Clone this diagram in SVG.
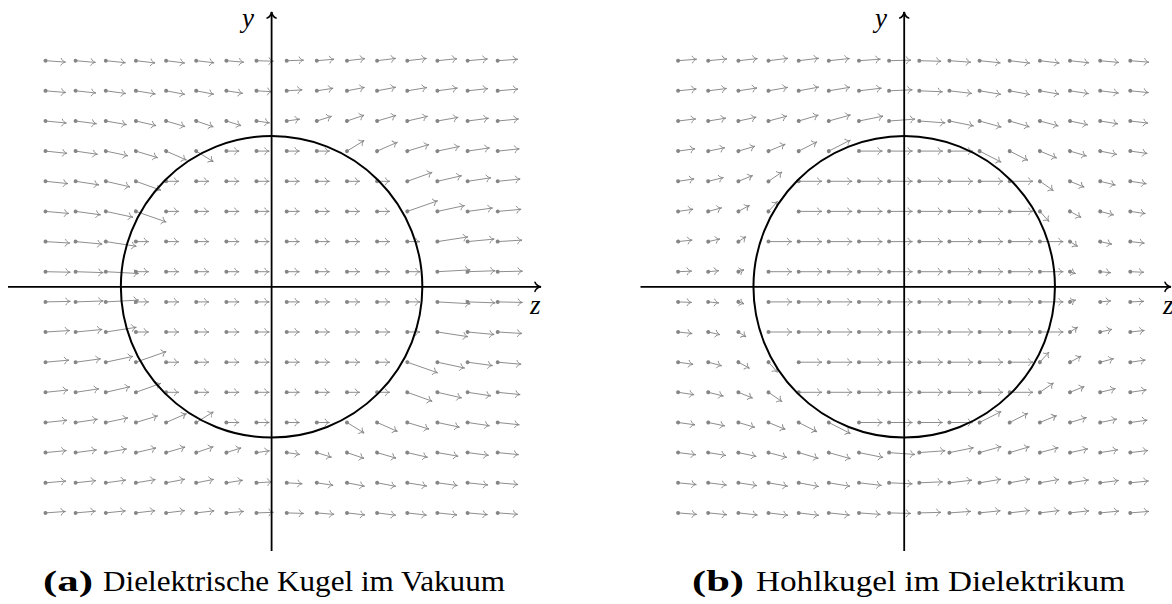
<svg xmlns="http://www.w3.org/2000/svg" xmlns:xlink="http://www.w3.org/1999/xlink" width="1172" height="604" viewBox="0 0 1172 604">
<defs>
<marker id="d" markerUnits="userSpaceOnUse" markerWidth="6" markerHeight="6" viewBox="-3 -3 6 6" refX="0" refY="0" orient="auto"><circle r="2" fill="#858585"/></marker>
<marker id="h" markerUnits="userSpaceOnUse" markerWidth="10" markerHeight="10" viewBox="-7 -5 10 10" refX="0" refY="0" orient="auto"><path d="M-4.4,-3.4 C-3.7,-1.4 -1.4,-0.3 0,0 C-1.4,0.3 -3.7,1.4 -4.4,3.4" fill="none" stroke="#888" stroke-width="0.9" stroke-linecap="round"/></marker>
<marker id="ha" markerUnits="userSpaceOnUse" markerWidth="14" markerHeight="14" viewBox="-9 -7 14 14" refX="0" refY="0" orient="auto"><path d="M-6,-4.5 C-5,-1.8 -1.8,-0.35 0,0 C-1.8,0.35 -5,1.8 -6,4.5" fill="none" stroke="#000" stroke-width="1.6" stroke-linecap="round"/></marker>
<style>
.ax{stroke:#000;stroke-width:1.8;fill:none;marker-end:url(#ha)}
.ring{stroke:#000;stroke-width:2;fill:none}
.lbl{font-family:"Liberation Serif",serif;font-style:italic;font-size:27px;fill:#000}
.cap{font-family:"Liberation Serif",serif;font-size:29px;fill:#000}
</style>
</defs>
<rect width="1172" height="604" fill="#fff"/>

<g id="field-a-top" fill="none" stroke="#888" stroke-width="0.95" marker-start="url(#d)" marker-end="url(#h)">
<path d="M45.5 60.7l19.97 1.42"/><path d="M75.6 60.7l19.83 1.72"/><path d="M105.8 60.7l19.57 2.01"/><path d="M135.9 60.7l19.15 2.24"/><path d="M166.1 60.7l18.57 2.29"/><path d="M196.2 60.7l17.9 2.06"/><path d="M226.4 60.7l17.26 1.46"/><path d="M256.5 60.7l16.87 .53"/><path d="M286.7 60.7l16.87-.53"/><path d="M316.8 60.7l17.26-1.46"/><path d="M347 60.7l17.9-2.06"/><path d="M377.1 60.7l18.57-2.29"/><path d="M407.3 60.7l19.15-2.24"/><path d="M437.4 60.7l19.57-2.01"/><path d="M467.6 60.7l19.83-1.72"/><path d="M497.7 60.7l19.97-1.42"/>
<path d="M45.5 90.8l20.33 1.72"/><path d="M75.6 90.8l20.23 2.18"/><path d="M105.8 90.8l19.96 2.71"/><path d="M135.9 90.8l19.44 3.21"/><path d="M166.1 90.8l18.59 3.52"/><path d="M196.2 90.8l17.45 3.37"/><path d="M226.4 90.8l16.27 2.5"/><path d="M256.5 90.8l15.49 .94"/><path d="M286.7 90.8l15.49-.94"/><path d="M316.8 90.8l16.27-2.5"/><path d="M347 90.8l17.45-3.37"/><path d="M377.1 90.8l18.59-3.52"/><path d="M407.3 90.8l19.44-3.21"/><path d="M437.4 90.8l19.96-2.71"/><path d="M467.6 90.8l20.23-2.18"/><path d="M497.7 90.8l20.33-1.72"/>
<path d="M45.5 121l20.84 2.01"/><path d="M75.6 121l20.87 2.71"/><path d="M105.8 121l20.7 3.61"/><path d="M135.9 121l20.14 4.63"/><path d="M166.1 121l18.95 5.55"/><path d="M196.2 121l17.01 5.8"/><path d="M226.4 121l14.66 4.65"/><path d="M256.5 121l12.95 1.82"/><path d="M286.7 121l12.95-1.82"/><path d="M316.8 121l14.66-4.65"/><path d="M347 121l17.01-5.8"/><path d="M377.1 121l18.95-5.55"/><path d="M407.3 121l20.14-4.63"/><path d="M437.4 121l20.7-3.61"/><path d="M467.6 121l20.87-2.71"/><path d="M497.7 121l20.84-2.01"/>
<path d="M45.5 151.1l21.54 2.24"/><path d="M75.6 151.1l21.85 3.21"/><path d="M105.8 151.1l22.01 4.63"/><path d="M135.9 151.1l21.69 6.58"/><path d="M166.1 151.1l20.3 8.88"/><path d="M196.2 151.1l17.08 10.56"/><path d="M226.4 151.1l12.7 0"/><path d="M256.5 151.1l12.7 0"/><path d="M286.7 151.1l12.7 0"/><path d="M316.8 151.1l12.7 0"/><path d="M347 151.1l17.08-10.56"/><path d="M377.1 151.1l20.3-8.88"/><path d="M407.3 151.1l21.69-6.58"/><path d="M437.4 151.1l22.01-4.63"/><path d="M467.6 151.1l21.85-3.21"/><path d="M497.7 151.1l21.54-2.24"/>
<path d="M45.5 181.3l22.42 2.29"/><path d="M75.6 181.3l23.23 3.52"/><path d="M105.8 181.3l24.13 5.55"/><path d="M135.9 181.3l24.81 8.88"/><path d="M166.1 181.3l12.7 0"/><path d="M196.2 181.3l12.7 0"/><path d="M226.4 181.3l12.7 0"/><path d="M256.5 181.3l12.7 0"/><path d="M286.7 181.3l12.7 0"/><path d="M316.8 181.3l12.7 0"/><path d="M347 181.3l12.7 0"/><path d="M377.1 181.3l12.7 0"/><path d="M407.3 181.3l24.81-8.88"/><path d="M437.4 181.3l24.13-5.55"/><path d="M467.6 181.3l23.23-3.52"/><path d="M497.7 181.3l22.42-2.29"/>
<path d="M45.5 211.4l23.39 2.06"/><path d="M75.6 211.4l24.9 3.37"/><path d="M105.8 211.4l27.12 5.8"/><path d="M135.9 211.4l30.22 10.56"/><path d="M166.1 211.4l12.7 0"/><path d="M196.2 211.4l12.7 0"/><path d="M226.4 211.4l12.7 0"/><path d="M256.5 211.4l12.7 0"/><path d="M286.7 211.4l12.7 0"/><path d="M316.8 211.4l12.7 0"/><path d="M347 211.4l12.7 0"/><path d="M377.1 211.4l12.7 0"/><path d="M407.3 211.4l30.22-10.56"/><path d="M437.4 211.4l27.12-5.8"/><path d="M467.6 211.4l24.9-3.37"/><path d="M497.7 211.4l23.39-2.06"/>
<path d="M45.5 241.6l24.26 1.46"/><path d="M75.6 241.6l26.54 2.5"/><path d="M105.8 241.6l30.44 4.65"/><path d="M135.9 241.6l12.7 0"/><path d="M166.1 241.6l12.7 0"/><path d="M196.2 241.6l12.7 0"/><path d="M226.4 241.6l12.7 0"/><path d="M256.5 241.6l12.7 0"/><path d="M286.7 241.6l12.7 0"/><path d="M316.8 241.6l12.7 0"/><path d="M347 241.6l12.7 0"/><path d="M377.1 241.6l12.7 0"/><path d="M407.3 241.6l12.7 0"/><path d="M437.4 241.6l30.44-4.65"/><path d="M467.6 241.6l26.54-2.5"/><path d="M497.7 241.6l24.26-1.46"/>
<path d="M45.5 271.7l24.79 .53"/><path d="M75.6 271.7l27.59 .94"/><path d="M105.8 271.7l32.76 1.82"/><path d="M135.9 271.7l12.7 0"/><path d="M166.1 271.7l12.7 0"/><path d="M196.2 271.7l12.7 0"/><path d="M226.4 271.7l12.7 0"/><path d="M256.5 271.7l12.7 0"/><path d="M286.7 271.7l12.7 0"/><path d="M316.8 271.7l12.7 0"/><path d="M347 271.7l12.7 0"/><path d="M377.1 271.7l12.7 0"/><path d="M407.3 271.7l12.7 0"/><path d="M437.4 271.7l32.76-1.82"/><path d="M467.6 271.7l27.59-.94"/><path d="M497.7 271.7l24.79-.53"/>
</g>
<use id="field-a-bottom" xlink:href="#field-a-top" href="#field-a-top" transform="matrix(1 0 0 -1 0 573.6)"/>

<g id="field-b-top" fill="none" stroke="#888" stroke-width="0.95" marker-start="url(#d)" marker-end="url(#h)">
<path d="M678.1 60.7l18.51-1.48"/><path d="M708.2 60.7l18.65-1.79"/><path d="M738.4 60.7l18.93-2.09"/><path d="M768.5 60.7l19.36-2.33"/><path d="M798.7 60.7l19.96-2.39"/><path d="M828.8 60.7l20.67-2.15"/><path d="M859 60.7l21.33-1.52"/><path d="M889.1 60.7l21.74-.55"/><path d="M919.3 60.7l21.74 .55"/><path d="M949.4 60.7l21.33 1.52"/><path d="M979.6 60.7l20.67 2.15"/><path d="M1009.7 60.7l19.96 2.39"/><path d="M1039.9 60.7l19.36 2.33"/><path d="M1070 60.7l18.93 2.09"/><path d="M1100.2 60.7l18.65 1.79"/><path d="M1130.3 60.7l18.51 1.48"/>
<path d="M678.1 90.8l18.14-1.79"/><path d="M708.2 90.8l18.24-2.27"/><path d="M738.4 90.8l18.52-2.82"/><path d="M768.5 90.8l19.07-3.35"/><path d="M798.7 90.8l19.95-3.67"/><path d="M828.8 90.8l21.14-3.51"/><path d="M859 90.8l22.37-2.61"/><path d="M889.1 90.8l23.18-.98"/><path d="M919.3 90.8l23.18 .98"/><path d="M949.4 90.8l22.37 2.61"/><path d="M979.6 90.8l21.14 3.51"/><path d="M1009.7 90.8l19.95 3.67"/><path d="M1039.9 90.8l19.07 3.35"/><path d="M1070 90.8l18.52 2.82"/><path d="M1100.2 90.8l18.24 2.27"/><path d="M1130.3 90.8l18.14 1.79"/>
<path d="M678.1 121l17.61-2.09"/><path d="M708.2 121l17.57-2.82"/><path d="M738.4 121l17.75-3.76"/><path d="M768.5 121l18.33-4.83"/><path d="M798.7 121l19.57-5.78"/><path d="M828.8 121l21.6-6.04"/><path d="M859 121l24.04-4.84"/><path d="M889.1 121l25.82-1.89"/><path d="M919.3 121l25.82 1.89"/><path d="M949.4 121l24.04 4.84"/><path d="M979.6 121l21.6 6.04"/><path d="M1009.7 121l19.57 5.78"/><path d="M1039.9 121l18.33 4.83"/><path d="M1070 121l17.75 3.76"/><path d="M1100.2 121l17.57 2.82"/><path d="M1130.3 121l17.61 2.09"/>
<path d="M678.1 151.1l16.88-2.33"/><path d="M708.2 151.1l16.55-3.35"/><path d="M738.4 151.1l16.38-4.83"/><path d="M768.5 151.1l16.71-6.86"/><path d="M798.7 151.1l18.17-9.24"/><path d="M828.8 151.1l21.53-11"/><path d="M859 151.1l23.3 0"/><path d="M889.1 151.1l23.3 0"/><path d="M919.3 151.1l23.3 0"/><path d="M949.4 151.1l23.3 0"/><path d="M979.6 151.1l21.53 11"/><path d="M1009.7 151.1l18.17 9.24"/><path d="M1039.9 151.1l16.71 6.86"/><path d="M1070 151.1l16.38 4.83"/><path d="M1100.2 151.1l16.55 3.35"/><path d="M1130.3 151.1l16.88 2.33"/>
<path d="M678.1 181.3l15.96-2.39"/><path d="M708.2 181.3l15.12-3.67"/><path d="M738.4 181.3l14.17-5.78"/><path d="M768.5 181.3l13.47-9.24"/><path d="M798.7 181.3l23.3 0"/><path d="M828.8 181.3l23.3 0"/><path d="M859 181.3l23.3 0"/><path d="M889.1 181.3l23.3 0"/><path d="M919.3 181.3l23.3 0"/><path d="M949.4 181.3l23.3 0"/><path d="M979.6 181.3l23.3 0"/><path d="M1009.7 181.3l23.3 0"/><path d="M1039.9 181.3l13.47 9.24"/><path d="M1070 181.3l14.17 5.78"/><path d="M1100.2 181.3l15.12 3.67"/><path d="M1130.3 181.3l15.96 2.39"/>
<path d="M678.1 211.4l14.95-2.15"/><path d="M708.2 211.4l13.37-3.51"/><path d="M738.4 211.4l11.06-6.04"/><path d="M768.5 211.4l9-10"/><path d="M798.7 211.4l23.3 0"/><path d="M828.8 211.4l23.3 0"/><path d="M859 211.4l23.3 0"/><path d="M889.1 211.4l23.3 0"/><path d="M919.3 211.4l23.3 0"/><path d="M949.4 211.4l23.3 0"/><path d="M979.6 211.4l23.3 0"/><path d="M1009.7 211.4l23.3 0"/><path d="M1039.9 211.4l9 10"/><path d="M1070 211.4l11.06 6.04"/><path d="M1100.2 211.4l13.37 3.51"/><path d="M1130.3 211.4l14.95 2.15"/>
<path d="M678.1 241.6l14.04-1.52"/><path d="M708.2 241.6l11.67-2.61"/><path d="M738.4 241.6l7.6-4.84"/><path d="M768.5 241.6l23.3 0"/><path d="M798.7 241.6l23.3 0"/><path d="M828.8 241.6l23.3 0"/><path d="M859 241.6l23.3 0"/><path d="M889.1 241.6l23.3 0"/><path d="M919.3 241.6l23.3 0"/><path d="M949.4 241.6l23.3 0"/><path d="M979.6 241.6l23.3 0"/><path d="M1009.7 241.6l23.3 0"/><path d="M1039.9 241.6l23.3 0"/><path d="M1070 241.6l7.6 4.84"/><path d="M1100.2 241.6l11.67 2.61"/><path d="M1130.3 241.6l14.04 1.52"/>
<path d="M678.1 271.7l13.49-.55"/><path d="M708.2 271.7l10.57-.98"/><path d="M738.4 271.7l5.6-1.89"/><path d="M768.5 271.7l23.3 0"/><path d="M798.7 271.7l23.3 0"/><path d="M828.8 271.7l23.3 0"/><path d="M859 271.7l23.3 0"/><path d="M889.1 271.7l23.3 0"/><path d="M919.3 271.7l23.3 0"/><path d="M949.4 271.7l23.3 0"/><path d="M979.6 271.7l23.3 0"/><path d="M1009.7 271.7l23.3 0"/><path d="M1039.9 271.7l23.3 0"/><path d="M1070 271.7l5.6 1.89"/><path d="M1100.2 271.7l10.57 .98"/><path d="M1130.3 271.7l13.49 .55"/>
</g>
<use id="field-b-bottom" xlink:href="#field-b-top" href="#field-b-top" transform="matrix(1 0 0 -1 0 573.6)"/>

<g id="sphere-a"><circle class="ring" cx="271.6" cy="286.8" r="150.75"/></g>
<g id="sphere-b"><circle class="ring" cx="904.2" cy="286.8" r="150.75"/></g>

<g id="axes">
<path class="ax" d="M8 286.8H541"/>
<path class="ax" d="M271.6 551V12"/>
<path class="ax" d="M640.5 286.8H1171"/>
<path class="ax" d="M904.2 551V12"/>
</g>
<g id="labels">
<text class="lbl" x="242" y="27">y</text>
<text class="lbl" x="530" y="314">z</text>
<text class="lbl" x="875" y="27">y</text>
<text class="lbl" x="1163" y="314">z</text>
</g>
<g id="captions">
<text class="cap" x="43" y="591" font-weight="bold" textLength="50" lengthAdjust="spacingAndGlyphs">(a)</text>
<text class="cap" x="103" y="591" textLength="402" lengthAdjust="spacingAndGlyphs">Dielektrische Kugel im Vakuum</text>
<text class="cap" x="692" y="591" font-weight="bold" textLength="52" lengthAdjust="spacingAndGlyphs">(b)</text>
<text class="cap" x="756" y="591" textLength="369" lengthAdjust="spacingAndGlyphs">Hohlkugel im Dielektrikum</text>
</g>
</svg>
